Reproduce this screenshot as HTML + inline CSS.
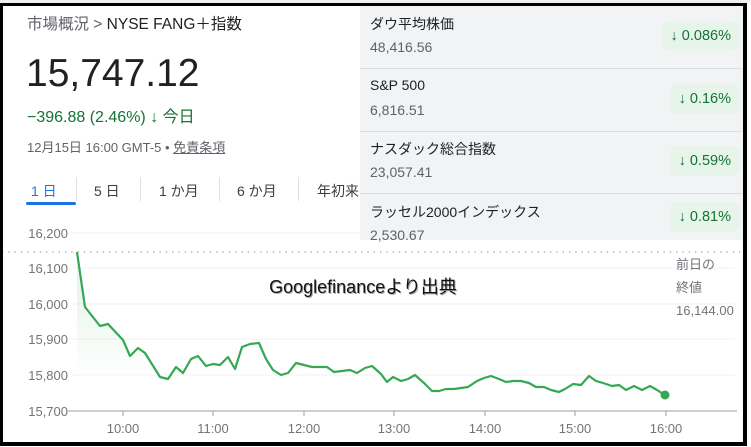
<!DOCTYPE html>
<html><head><meta charset="utf-8"><style>
body{margin:0;width:751px;height:447px;background:#fff;position:relative;overflow:hidden;font-family:"Liberation Sans","Noto Sans CJK JP",sans-serif}
.a{position:absolute;white-space:nowrap}
.frame{position:absolute;left:0;top:3px;width:740px;height:436px;border:3px solid #000;border-left-width:3px;border-right-width:4px;border-bottom-width:4px}
.row{position:absolute;left:360px;width:384px;height:62px;border-bottom:1px solid #dadce0}
.row .t{position:absolute;left:10px;top:8px;font-size:14px;color:#202124}
.row .v{position:absolute;left:10px;top:33px;font-size:14px;color:#5f6368}
.row .p{position:absolute;right:4px;top:15px;height:30px;line-height:30px;padding:0 9px;background:#e6f4ea;color:#137333;border-radius:8px;font-size:14.5px}
.tab{position:absolute;top:181px;font-size:14px;color:#3c4043}
.sep{position:absolute;top:177px;width:1px;height:24px;background:#e0e0e0}
</style></head><body>
<div class="a" style="left:0;top:0;width:751px;height:3px;background:#f0f0f0"></div>
<div class="a" style="left:360px;top:6px;width:384px;height:234px;background:#f1f3f4"></div>
<div class="row" style="top:6px"><div class="t">ダウ平均株価</div><div class="v">48,416.56</div><div class="p">↓ 0.086%</div></div>
<div class="row" style="top:69px"><div class="t">S&amp;P 500</div><div class="v">6,816.51</div><div class="p">↓ 0.16%</div></div>
<div class="row" style="top:131px"><div class="t">ナスダック総合指数</div><div class="v">23,057.41</div><div class="p">↓ 0.59%</div></div>
<div class="row" style="top:194px;border-bottom:none;height:46px"><div class="t">ラッセル2000インデックス</div><div class="v">2,530.67</div><div class="p" style="top:8px">↓ 0.81%</div></div>

<div class="a" style="left:27px;top:12px;font-size:15.5px;color:#5f6368">市場概況 &gt; <span style="color:#202124">NYSE FANG＋指数</span></div>
<div class="a" style="left:26px;top:52px;font-size:39px;color:#202124">15,747.12</div>
<div class="a" style="left:27px;top:103px;font-size:16px;color:#137333">−396.88 (2.46%) <b>↓</b> 今日</div>
<div class="a" style="left:27px;top:137px;font-size:13px;color:#5f6368">12月15日 16:00 GMT-5 • <span style="text-decoration:underline">免責条項</span></div>
<div class="tab" style="left:31px;color:#1a73e8">1 日</div>
<div class="a" style="left:26px;top:202px;width:50px;height:3px;background:#1a73e8;border-radius:2px"></div>
<div class="sep" style="left:76px"></div>
<div class="tab" style="left:94px">5 日</div>
<div class="sep" style="left:140px"></div>
<div class="tab" style="left:159px">1 か月</div>
<div class="sep" style="left:219px"></div>
<div class="tab" style="left:237px">6 か月</div>
<div class="sep" style="left:298px"></div>
<div class="tab" style="left:317px">年初来</div>

<svg class="a" style="left:0;top:0" width="751" height="447">
<defs><linearGradient id="g" x1="0" y1="0" x2="0" y2="1"><stop offset="0" stop-color="#34a853" stop-opacity="0.15"/><stop offset="1" stop-color="#34a853" stop-opacity="0"/></linearGradient></defs>
<g stroke="#f1f1f1" stroke-width="1">
<line x1="72" y1="268" x2="735" y2="268"/><line x1="72" y1="304" x2="735" y2="304"/><line x1="72" y1="339" x2="735" y2="339"/><line x1="72" y1="375" x2="735" y2="375"/></g>
<line x1="70" y1="233" x2="360" y2="233" stroke="#f1f1f1"/>
<line x1="2" y1="252" x2="740" y2="252" stroke="#9aa0a6" stroke-width="1.3" stroke-dasharray="1.3 5"/>
<g font-size="13" fill="#70757a" text-anchor="end" font-family="Liberation Sans">
<text x="68" y="238">16,200</text><text x="68" y="273">16,100</text><text x="68" y="309">16,000</text><text x="68" y="344">15,900</text><text x="68" y="380">15,800</text><text x="68" y="416">15,700</text></g>
<line x1="68" y1="411" x2="737" y2="411" stroke="#9aa0a6"/>
<g stroke="#9aa0a6"><line x1="123" y1="411" x2="123" y2="416"/><line x1="213" y1="411" x2="213" y2="416"/><line x1="304" y1="411" x2="304" y2="416"/><line x1="394" y1="411" x2="394" y2="416"/><line x1="485" y1="411" x2="485" y2="416"/><line x1="575" y1="411" x2="575" y2="416"/><line x1="666" y1="411" x2="666" y2="416"/></g>
<g font-size="13" fill="#70757a" text-anchor="middle" font-family="Liberation Sans">
<text x="123" y="433">10:00</text><text x="213" y="433">11:00</text><text x="304" y="433">12:00</text><text x="394" y="433">13:00</text><text x="485" y="433">14:00</text><text x="575" y="433">15:00</text><text x="666" y="433">16:00</text></g>
<polygon fill="url(#g)" points="77,252 85,307 100,326 108,324 123,340 130,356 138,348 145,353 160,377 160,380 77,380"/>
<polyline fill="none" stroke="#34a853" stroke-width="2.2" stroke-linejoin="round" points="77,252 85,307 100,326 108,324 123,340 130,356 138,348 145,353 160,377 168,379 176,367 183,373 191,359 198,356 206,366 213,364 220,365 228,357 235,369 242,347 250,344 259,343 266,359 273,370 281,375 288,373 296,363 304,365 312,367 319,367 327,367 334,372 342,371 350,370 357,373 365,368 372,366 381,374 387,382 393,377 401,381 408,379 415,375 424,383 432,391 439,391 446,389 454,389 461,388 468,387 477,381 484,378 491,376 499,379 506,382 513,381 521,381 529,383 536,387 544,387 551,390 559,392 565,389 573,384 581,385 589,376 596,381 603,383 612,386 619,385 626,390 634,386 642,390 650,386 657,390 665,395"/>
<circle cx="665" cy="395" r="4.5" fill="#34a853"/>
<g font-size="13" fill="#70757a" font-family="Liberation Sans,Noto Sans CJK JP,sans-serif">
<text x="676" y="269">前日の</text><text x="676" y="292">終値</text><text x="676" y="315">16,144.00</text></g>
<text x="364" y="294" font-size="18" fill="#aaa" text-anchor="middle" font-family="Liberation Sans,Noto Sans CJK JP,sans-serif">Googlefinanceより出典</text>
<text x="363" y="293" font-size="18" fill="#111" text-anchor="middle" font-family="Liberation Sans,Noto Sans CJK JP,sans-serif">Googlefinanceより出典</text>
</svg>
<div class="frame"></div>
</body></html>
